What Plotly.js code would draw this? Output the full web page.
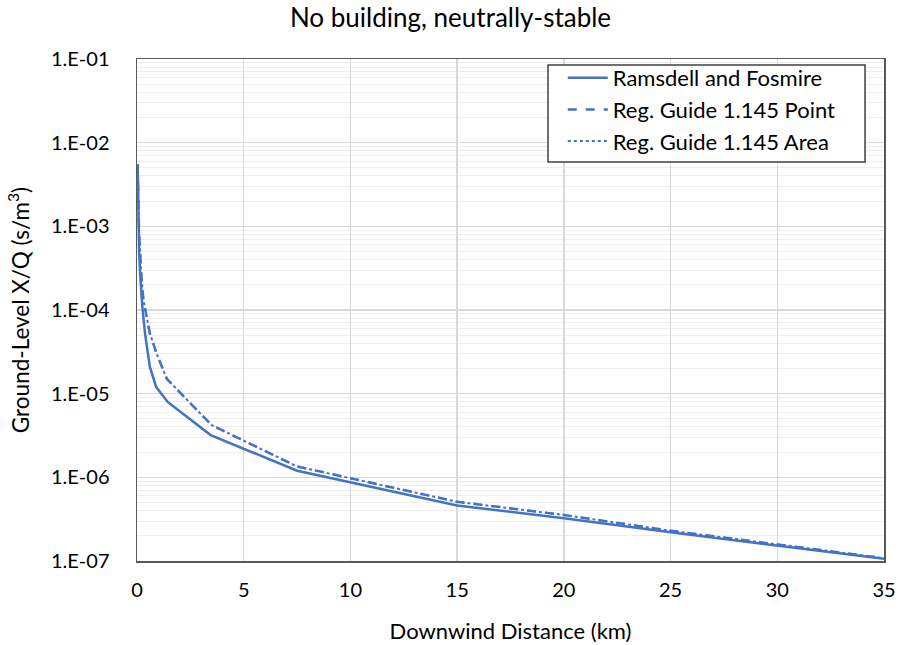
<!DOCTYPE html>
<html>
<head>
<meta charset="utf-8">
<script src="https://cdn.plot.ly/plotly-3.0.1.min.js"></script>
<style>html,body{margin:0;padding:0;background:#fff;}#chart{width:901px;height:645px;}</style>
</head>
<body>
<div id="chart"></div>
<script>
// Ground-level X/Q versus downwind distance, neutrally-stable, no building wake
const ramsdellDist = [0.03, 0.05, 0.1, 0.15, 0.25, 0.375, 0.6, 0.9, 1.45, 3.45, 7.5, 15, 20, 25, 30, 35];
const ramsdellXQ   = [5.5e-3, 1.6e-3, 5.0e-4, 2.6e-4, 1.1e-4, 5.3e-5, 2.1e-5, 1.2e-5, 7.9e-6, 3.2e-6, 1.2e-6, 4.6e-7, 3.25e-7, 2.2e-7, 1.52e-7, 1.06e-7];

const rgPointDist = [0.03, 0.05, 0.1, 0.2, 0.3, 0.6, 0.92, 1.4, 3.5, 7.5, 15, 20, 25, 30, 35];
const rgPointXQ   = [5.5e-3, 2.5e-3, 8.0e-4, 2.7e-4, 1.32e-4, 5.3e-5, 3.0e-5, 1.5e-5, 4.2e-6, 1.35e-6, 5.1e-7, 3.55e-7, 2.3e-7, 1.58e-7, 1.08e-7];

const rgAreaDist = [0.03, 0.05, 0.1, 0.2, 0.3, 0.6, 0.92, 1.4, 3.5, 7.5, 15, 20, 25, 30, 35];
const rgAreaXQ   = [5.5e-3, 2.5e-3, 8.0e-4, 2.7e-4, 1.32e-4, 5.3e-5, 3.0e-5, 1.5e-5, 4.2e-6, 1.35e-6, 5.1e-7, 3.55e-7, 2.3e-7, 1.58e-7, 1.08e-7];

const seriesNames = ['Ramsdell and Fosmire', 'Reg. Guide 1.145 Point', 'Reg. Guide 1.145 Area'];

const yTickVals = [1e-1, 1e-2, 1e-3, 1e-4, 1e-5, 1e-6, 1e-7];
const yTickText = ['1.E-01', '1.E-02', '1.E-03', '1.E-04', '1.E-05', '1.E-06', '1.E-07'];
const xTickVals = [0, 5, 10, 15, 20, 25, 30, 35];

const blue = '#4472C4';
const fontFamily = 'Lato, "Open Sans", sans-serif';

const traces = [
  {x: ramsdellDist, y: ramsdellXQ, name: seriesNames[0], mode: 'lines',
   line: {color: blue, width: 2.5}},
  {x: rgPointDist, y: rgPointXQ, name: seriesNames[1], mode: 'lines',
   line: {color: blue, width: 2.5, dash: 'dash'}},
  {x: rgAreaDist, y: rgAreaXQ, name: seriesNames[2], mode: 'lines',
   line: {color: blue, width: 2, dash: 'dot'}}
];

const layout = {
  width: 901, height: 645,
  paper_bgcolor: '#fff', plot_bgcolor: '#fff',
  margin: {l: 137, r: 17, t: 59, b: 84},
  font: {family: fontFamily, color: '#000', size: 20},
  title: {text: 'No building, neutrally-stable', x: 0.5, xanchor: 'center', y: 0.972, yanchor: 'middle',
          font: {family: fontFamily, size: 26, color: '#000'}},
  xaxis: {
    range: [0, 35], tickvals: xTickVals, ticks: '', ticklabelstandoff: 10,
    showgrid: true, gridcolor: '#d9d9d9', gridwidth: 1.5,
    showline: true, linecolor: '#595959', linewidth: 1.5, mirror: true,
    zeroline: false, tickfont: {size: 20},
    title: {text: 'Downwind Distance (km)', font: {size: 22}, standoff: 24}
  },
  yaxis: {
    type: 'log', range: [-7, -1], tickvals: yTickVals, ticktext: yTickText, ticks: '',
    ticklabelstandoff: 22,
    showgrid: true, gridcolor: '#d9d9d9', gridwidth: 1.5,
    minor: {showgrid: true, gridcolor: '#eeeeee', gridwidth: 1, dtick: 'D1'},
    showline: true, linecolor: '#595959', linewidth: 1.5, mirror: true,
    zeroline: false, tickfont: {size: 20},
    title: {text: 'Ground-Level X/Q (s/m<sup>3</sup>)', font: {size: 22.5}, standoff: 15}
  },
  // white framed box behind the legend entries
  shapes: [{
    type: 'rect', xref: 'paper', yref: 'paper', layer: 'above',
    x0: 0.5502, x1: 0.9746, y0: 0.7948, y1: 0.988,
    fillcolor: '#fff', line: {color: '#404040', width: 1.5}
  }],
  legend: {
    x: 0.570, y: 1.004, xanchor: 'left', yanchor: 'top',
    bgcolor: 'rgba(0,0,0,0)', borderwidth: 0,
    font: {size: 22}, itemwidth: 40, tracegroupgap: 0
  },
  showlegend: true
};

Plotly.newPlot('chart', traces, layout, {staticPlot: true});
</script>
</body>
</html>
